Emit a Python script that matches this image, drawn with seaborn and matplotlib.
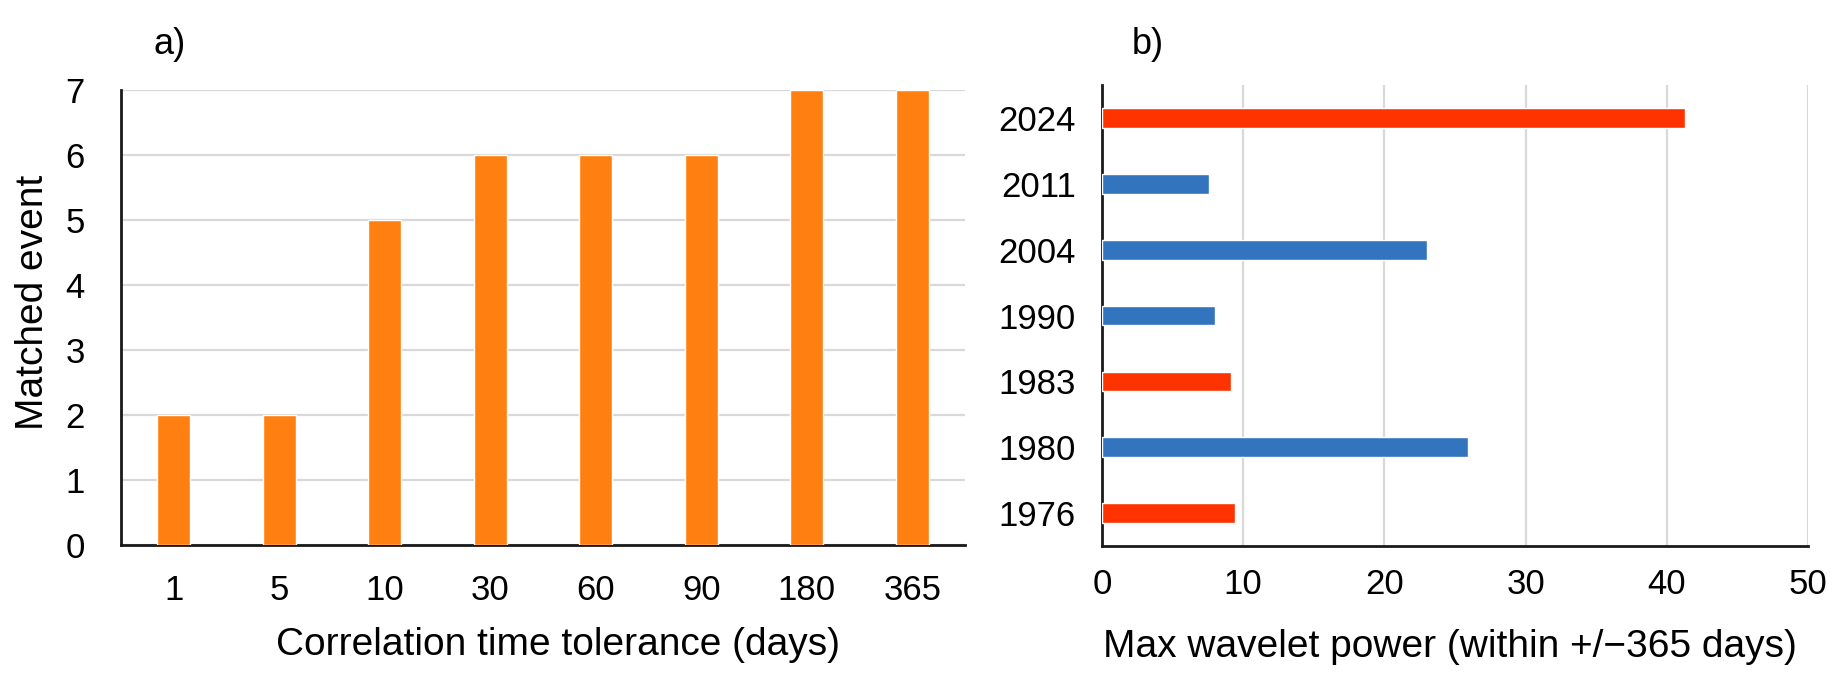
import matplotlib
matplotlib.use('Agg')
import matplotlib.pyplot as plt
import pandas as pd
import seaborn as sns

tolerance_days = ['1', '5', '10', '30', '60', '90', '180', '365']
matched_events = [2, 2, 5, 6, 6, 6, 7, 7]

event_years = ['2024', '2011', '2004', '1990', '1983', '1980', '1976']
wavelet_power = [41.3, 7.6, 23.0, 8.0, 9.1, 25.9, 9.4]
year_colors = ['#FF3300', '#3274BE', '#3274BE', '#3274BE', '#FF3300', '#3274BE', '#FF3300']

sns.set_theme(style='white')
plt.rcParams['font.family'] = ['Liberation Sans', 'DejaVu Sans']
plt.rcParams['text.color'] = 'black'
plt.rcParams['axes.labelcolor'] = 'black'

fig = plt.figure(figsize=(18.41, 6.80), dpi=100)
ax1 = fig.add_axes([0.0657, 0.1985, 0.4585, 0.669])
ax2 = fig.add_axes([0.5986, 0.197, 0.3835, 0.678])

grid_color = '#D9D9D9'
spine_color = '#1A1A1A'

# panel a
df_a = pd.DataFrame({'tolerance': tolerance_days, 'matched': matched_events})
sns.barplot(data=df_a, x='tolerance', y='matched', color='#FF8010', saturation=1,
            width=0.31, ax=ax1, zorder=3)
ax1.set_ylim(0, 7)
ax1.set_yticks(range(0, 8))
ax1.yaxis.grid(True, color=grid_color, lw=1.6, zorder=0)
ax1.set_axisbelow(True)
ax1.set_xlabel('Correlation time tolerance (days)', fontsize=28, color='black')
ax1.set_ylabel('Matched event', fontsize=28, color='black')
ax1.xaxis.set_label_coords(0.518, -0.18)
ax1.yaxis.set_label_coords(-0.0825, 0.534)
ax1.tick_params(axis='y', length=0, pad=26, labelsize=25)
ax1.tick_params(axis='x', length=0, pad=21, labelsize=25)

# panel b
df_b = pd.DataFrame({'year': event_years, 'power': wavelet_power})
sns.barplot(data=df_b, y='year', x='power', hue='year', palette=year_colors,
            saturation=1, width=0.30, legend=False, orient='h', ax=ax2, zorder=3)
ax2.set_xlim(0, 50)
ax2.set_xticks(range(0, 51, 10))
ax2.xaxis.grid(True, color=grid_color, lw=1.6, zorder=0)
ax2.set_axisbelow(True)
ax2.set_xlabel('Max wavelet power (within +/\u2212365 days)', fontsize=28, color='black')
ax2.set_ylabel('')
ax2.xaxis.set_label_coords(0.493, -0.18)
ax2.tick_params(axis='y', length=0, pad=19, labelsize=25)
ax2.tick_params(axis='x', length=0, pad=16, labelsize=25)

for ax in (ax1, ax2):
    for side in ('top', 'right'):
        ax.spines[side].set_visible(False)
    for side in ('left', 'bottom'):
        ax.spines[side].set_color(spine_color)
        ax.spines[side].set_linewidth(2)
    ax.tick_params(colors='black')

fig.text(0.0923, 0.935, 'a)', fontsize=26, ha='center', va='center')
fig.text(0.6236, 0.934, 'b)', fontsize=26, ha='center', va='center')

fig.savefig('out.png', dpi=100, facecolor='white')
